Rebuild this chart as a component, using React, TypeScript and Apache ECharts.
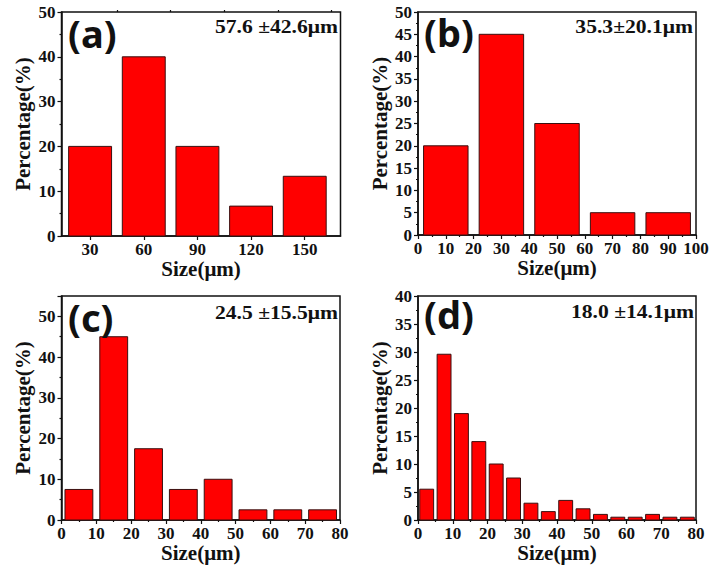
import React, { useEffect, useRef } from "react";
import * as echarts from "echarts";

// ---- data ----
const sizesA = [30, 60, 90, 120, 150];
const pctA = [20, 40, 20, 6.67, 13.33];
const sizesB = [10, 30, 50, 70, 90];
const pctB = [20, 45, 25, 5, 5];
const sizesC = [5, 15, 25, 35, 45, 55, 65, 75];
const pctC = [7.5, 45, 17.5, 7.5, 10, 2.5, 2.5, 2.5];
const sizesD = [2.5, 7.5, 12.5, 17.5, 22.5, 27.5, 32.5, 37.5, 42.5, 47.5, 52.5, 57.5, 62.5, 67.5, 72.5, 77.5];
const pctD = [5.5, 29.6, 19, 14, 10, 7.5, 3, 1.5, 3.5, 2, 1, 0.5, 0.5, 1, 0.5, 0.5];
const ticksA = [30, 60, 90, 120, 150];
const minorTicksA = [45, 75, 105, 135, 165];
const panelLabels = ["(a)", "(b)", "(c)", "(d)"];
const stats = ["57.6 ±42.6μm", "35.3±20.1μm", "24.5 ±15.5μm", "18.0 ±14.1μm"];
const xName = "Size(μm)";
const yName = "Percentage(%)";

const SERIF = "'Liberation Serif', 'Times New Roman', serif";
const SANS = "'Noto Sans', 'Open Sans', sans-serif";

export default function App() {
  const ref = useRef<HTMLDivElement>(null);
  useEffect(() => {
    if (!ref.current) return;
    const chart = echarts.init(ref.current, undefined, { renderer: "svg" });

    const grids = [
      { left: 61.5, top: 12, width: 279, height: 224 },
      { left: 418, top: 12, width: 278, height: 223 },
      { left: 61.5, top: 296, width: 278.5, height: 224 },
      { left: 418, top: 296, width: 278, height: 224 },
    ].map((g) => ({ ...g, show: true, borderColor: "#111", borderWidth: 1.5, backgroundColor: "transparent" }));

    const labelStyle = { fontFamily: SERIF, fontWeight: "bold" as const, fontSize: 17, color: "#111" };
    const nameStyle = { fontFamily: SERIF, fontWeight: "bold" as const, fontSize: 21, color: "#111" };
    const axisLine = { show: true, lineStyle: { color: "#111", width: 1.5 } };
    const axisTick = { show: true, inside: false, length: 4, lineStyle: { color: "#111", width: 1.2 } };
    const minorTick = { show: true, splitNumber: 2, length: 2, lineStyle: { color: "#111", width: 1.2 } };

    const xBase = (gi: number, gap: number) => ({
      type: "value" as const,
      gridIndex: gi,
      name: xName,
      nameLocation: "middle" as const,
      nameGap: gap,
      nameTextStyle: nameStyle,
      axisLine,
      axisTick,
      splitLine: { show: false },
      axisLabel: { ...labelStyle, margin: 5 },
    });

    const xAxes: any[] = [
      {
        ...xBase(0, 19),
        min: 14,
        max: 170,
        axisTick: { ...axisTick, customValues: ticksA },
        axisLabel: { ...labelStyle, margin: 5, customValues: ticksA },
      },
      { ...xBase(1, 22), min: 0, max: 100, interval: 10, minorTick },
      { ...xBase(2, 15), min: 0, max: 80, interval: 10, minorTick },
      { ...xBase(3, 20), min: 0, max: 80, interval: 10, minorTick },
      {
        type: "value",
        gridIndex: 0,
        min: 14,
        max: 170,
        axisLine: { show: false },
        axisLabel: { show: false },
        splitLine: { show: false },
        axisTick: { show: true, length: 2, lineStyle: { color: "#111", width: 1.2 }, customValues: minorTicksA },
      },
    ];

    const yBase = (gi: number, max: number, interval: number, hideMax = false) => ({
      type: "value" as const,
      gridIndex: gi,
      min: 0,
      max,
      interval,
      name: yName,
      nameLocation: "middle" as const,
      nameRotate: 90,
      nameGap: 28,
      nameTextStyle: nameStyle,
      axisLine,
      axisTick,
      minorTick,
      splitLine: { show: false },
      axisLabel: { ...labelStyle, margin: 6, showMaxLabel: hideMax ? false : true },
    });

    const yAxes = [yBase(0, 50, 10), yBase(1, 50, 5), yBase(2, 55, 10, true), yBase(3, 40, 5)];

    const barWidths = [24, 16, 8, 4];
    const datasets = [
      [sizesA, pctA],
      [sizesB, pctB],
      [sizesC, pctC],
      [sizesD, pctD],
    ];

    const series = datasets.map(([xs, ys], i) => ({
      type: "custom" as const,
      xAxisIndex: i,
      yAxisIndex: i,
      encode: { x: 0, y: 1 },
      data: xs.map((x, k) => [x, ys[k]]),
      renderItem: (params: any, api: any) => {
        const x = api.value(0);
        const y = api.value(1);
        const w = barWidths[i];
        const p1 = api.coord([x - w / 2, y]);
        const p2 = api.coord([x + w / 2, 0]);
        return {
          type: "rect",
          shape: { x: p1[0], y: p1[1], width: p2[0] - p1[0], height: p2[1] - p1[1] },
          style: { fill: "#ff0000", stroke: "#3a1010", lineWidth: 1 },
        };
      },
    }));

    const letterPos = [
      [68, 32.5],
      [424, 32],
      [68, 316.5],
      [424, 314],
    ];
    const statPos = [
      [338, 27],
      [693, 27],
      [338, 313],
      [694, 312],
    ];

    const graphics: any[] = [];
    panelLabels.forEach((t, i) => {
      graphics.push({
        type: "text",
        x: letterPos[i][0],
        y: letterPos[i][1],
        z: 10,
        style: {
          text: t,
          fontFamily: SANS,
          fontWeight: "bold",
          fontSize: 38,
          fill: "#111",
          align: "left",
          verticalAlign: "middle",
          textAlign: "left",
          textVerticalAlign: "middle",
        },
      });
    });
    stats.forEach((t, i) => {
      graphics.push({
        type: "text",
        x: statPos[i][0],
        y: statPos[i][1],
        scaleX: 1.2,
        z: 10,
        style: {
          text: t,
          fontFamily: SERIF,
          fontWeight: "bold",
          fontSize: 18,
          fill: "#111",
          align: "right",
          verticalAlign: "middle",
          textAlign: "right",
          textVerticalAlign: "middle",
        },
      });
    });

    chart.setOption({
      animation: false,
      backgroundColor: "#fff",
      grid: grids,
      xAxis: xAxes,
      yAxis: yAxes,
      series,
      graphic: graphics,
    });

    return () => chart.dispose();
  }, []);

  return (
    <div
      ref={ref}
      style={{ position: "fixed", left: 0, top: 0, width: 712, height: 575, background: "#fff" }}
    />
  );
}
